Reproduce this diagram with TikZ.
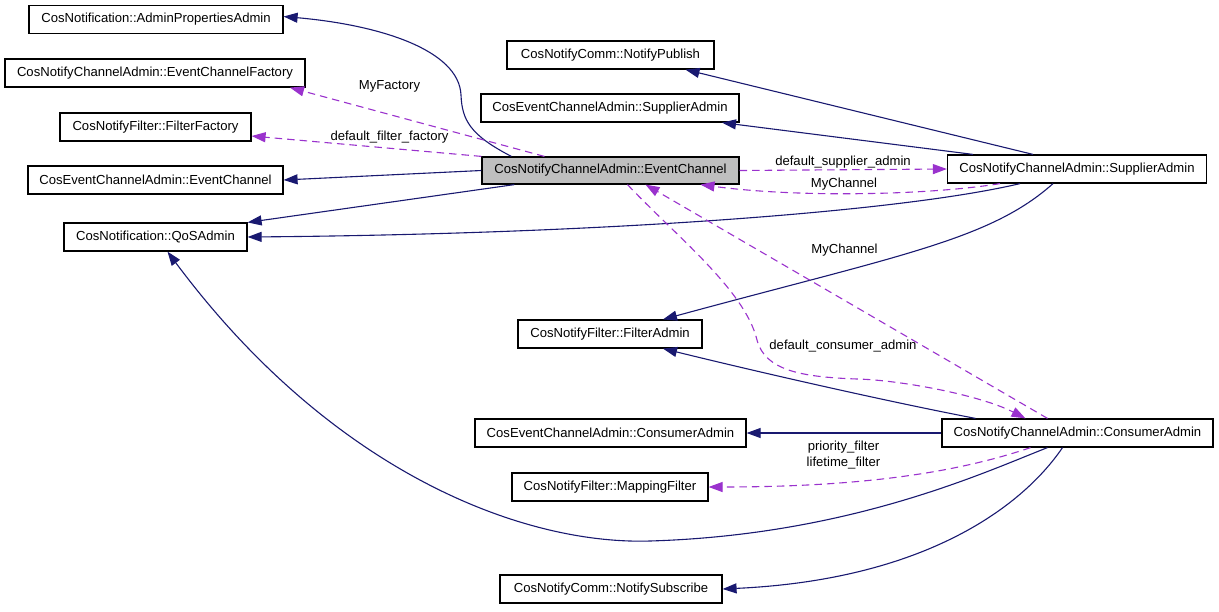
\documentclass[tikz,border=0pt]{standalone}
\usepackage{fontspec}
\setmainfont{Liberation Sans}
\usetikzlibrary{arrows.meta}

\definecolor{inheritblue}{HTML}{191970}
\definecolor{usepurple}{HTML}{9A32CD}
\definecolor{focusgray}{HTML}{BFBFBF}

\begin{document}
\begin{tikzpicture}[x=1pt,y=-1pt,
		cls/.style={draw,line width=1.2pt,minimum height=28pt,inner sep=0pt,font=\fontsize{13.1}{16}\selectfont},
		inherit/.style={draw=inheritblue,line width=1.1pt,-{Triangle[length=14pt,width=10pt]}},
		uses/.style={draw=usepurple,line width=1.1pt,dash pattern=on 7.5pt off 5pt,-{Triangle[length=14pt,width=10pt]}},
		lbl/.style={inner sep=0pt,font=\fontsize{13.1}{16}\selectfont,anchor=base}]
					\useasboundingbox (0,0) rectangle (1219,611);

					%% left column
					\node[cls,minimum width=254pt] (adminProps) at (156,19.5) {CosNotification::AdminPropertiesAdmin};
					\node[cls,minimum width=300pt] (factory) at (155,73) {CosNotifyChannelAdmin::EventChannelFactory};
					\node[cls,minimum width=191pt] (filterFactory) at (155.5,127) {CosNotifyFilter::FilterFactory};
					\node[cls,minimum width=255pt] (ceEC) at (155.5,180) {CosEventChannelAdmin::EventChannel};
					\node[cls,minimum width=183pt] (qos) at (155.5,237) {CosNotification::QoSAdmin};

					%% middle column
					\node[cls,minimum width=207pt] (publish) at (610.5,55) {CosNotifyComm::NotifyPublish};
					\node[cls,minimum width=258pt] (ceSA) at (610,108) {CosEventChannelAdmin::SupplierAdmin};
					\node[cls,minimum width=257pt,minimum height=27pt,fill=focusgray] (ec) at (610.5,170.5) {CosNotifyChannelAdmin::EventChannel};
					\node[cls,minimum width=184pt] (filterAdmin) at (610,334) {CosNotifyFilter::FilterAdmin};
					\node[cls,minimum width=271pt] (ceCA) at (610.5,433) {CosEventChannelAdmin::ConsumerAdmin};
					\node[cls,minimum width=196pt] (mapping) at (610,487) {CosNotifyFilter::MappingFilter};
					\node[cls,minimum width=222pt] (nsub) at (611,589) {CosNotifyComm::NotifySubscribe};

					%% right column
					\node[cls,minimum width=259pt] (nsa) at (1077,169) {CosNotifyChannelAdmin::SupplierAdmin};
					\node[cls,minimum width=271pt] (nca) at (1077.5,433) {CosNotifyChannelAdmin::ConsumerAdmin};

					%% inheritance
					\draw[inherit] ([xshift=30pt]ec.north west) .. controls (470,135) and (462,120) .. (461,95)
						.. controls (459,50) and (380,25) .. ([yshift=3pt]adminProps.east);
					\draw[inherit] (ec.west) -- (ceEC.east);
					\draw[inherit] ([xshift=33pt]ec.south west) -- (qos.north east);
					\draw[inherit] ([xshift=-57pt]nsa.south) .. controls (900,212) and (600,234) .. (qos.east);
					\draw[inherit] ([xshift=-44pt]nsa.north) -- ([xshift=75pt]publish.south);
					\draw[inherit] ([xshift=-104pt]nsa.north) -- ([xshift=112pt]ceSA.south);
					\draw[inherit] ([xshift=-24pt]nsa.south) .. controls (990,240) and (900,255) .. ([xshift=53pt]filterAdmin.north);
					\draw[inherit] ([xshift=-102pt]nca.north) .. controls (880,400) and (750,370) .. ([xshift=53pt]filterAdmin.south);
					\draw[inherit] (nca.west) -- (ceCA.east);
					\draw[inherit] ([xshift=-30pt]nca.south) .. controls (985,472) and (850,535) .. (650,541)
						.. controls (520,545) and (330,470) .. ([xshift=12pt]qos.south);
					\draw[inherit] ([xshift=-15pt]nca.south) .. controls (1020,510) and (920,580) .. (nsub.east);

					%% members
					\draw[uses] ([xshift=63pt]ec.north west) -- ([xshift=135pt]factory.south);
					\draw[uses] (ec.north west) -- ([yshift=-9pt]filterFactory.east);
					\draw[uses] (ec.east) -- (nsa.west);
					\draw[uses] ([xshift=-77pt]nsa.south) .. controls (930,195) and (800,198) .. ([xshift=90pt]ec.south);
					\draw[uses] ([xshift=-30pt]nca.north) -- ([xshift=35pt]ec.south);
					\draw[uses] ([xshift=17pt]ec.south) .. controls (675,235) and (745,290) .. (757,340)
						.. controls (765,370) and (800,377) .. (857,379)
						.. controls (900,380) and (980,395) .. ([xshift=-52pt]nca.north);
					\draw[uses] ([xshift=-47pt]nca.south) .. controls (950,475) and (850,487) .. (mapping.east);

					%% labels
					\node[lbl] (lblFactory) at (389.5,89) {MyFactory};
					\node[lbl] (lblFilterFactory) at (389.5,140) {default\_filter\_factory};
					\node[lbl] (lblSupplierAdmin) at (843,165) {default\_supplier\_admin};
					\node[lbl] (lblChannelUp) at (844,187) {MyChannel};
					\node[lbl] (lblChannelLow) at (844.5,253) {MyChannel};
					\node[lbl] (lblConsumerAdmin) at (843,349) {default\_consumer\_admin};
					\node[lbl,anchor=center,align=center] (lblFilters) at (843.5,455.5) {priority\_filter\\lifetime\_filter};
				\end{tikzpicture}
\end{document}
